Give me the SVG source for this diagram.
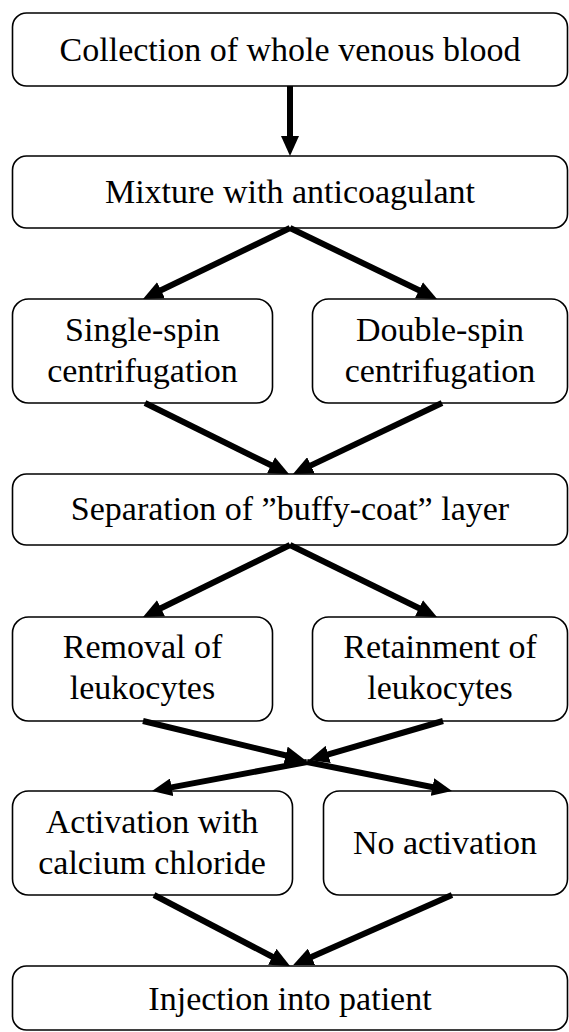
<svg xmlns="http://www.w3.org/2000/svg" width="569" height="1032" viewBox="0 0 569 1032">
<style>
.box{fill:#fff;stroke:#000;stroke-width:1.6}
.t{font-family:'Liberation Serif','DejaVu Serif',serif;font-size:34px;fill:#000;text-anchor:middle}
.a{stroke:#000;stroke-width:6;fill:none;marker-end:url(#ah)}
</style>
<defs>
<marker id="ah" markerUnits="userSpaceOnUse" markerWidth="20" markerHeight="18" refX="7" refY="9" orient="auto" viewBox="0 0 20 18">
<path d="M0,0 L20,9 L0,18 z" fill="#000"/>
</marker>
</defs>
<rect width="569" height="1032" fill="#fff"/>
<g id="n1"><rect class="box" x="12.5" y="13" width="555" height="73" rx="14"/><text class="t" font-family="Liberation Serif, serif" x="290" y="61">Collection of whole venous blood</text></g>
<g id="n2"><rect class="box" x="12.5" y="156" width="555" height="72" rx="14"/><text class="t" font-family="Liberation Serif, serif" x="290" y="203">Mixture with anticoagulant</text></g>
<g id="n3"><rect class="box" x="12.5" y="299" width="260" height="104" rx="16"/><text class="t" font-family="Liberation Serif, serif" x="142.5" y="341">Single-spin</text><text class="t" font-family="Liberation Serif, serif" x="142.5" y="382">centrifugation</text></g>
<g id="n4"><rect class="box" x="312.5" y="299" width="255" height="104" rx="16"/><text class="t" font-family="Liberation Serif, serif" x="440" y="341">Double-spin</text><text class="t" font-family="Liberation Serif, serif" x="440" y="382">centrifugation</text></g>
<g id="n5"><rect class="box" x="12.5" y="474" width="555" height="71" rx="14"/><text class="t" font-family="Liberation Serif, serif" x="290" y="520">Separation of ”buffy-coat” layer</text></g>
<g id="n6"><rect class="box" x="12.5" y="617" width="260" height="104" rx="16"/><text class="t" font-family="Liberation Serif, serif" x="142.5" y="658">Removal of</text><text class="t" font-family="Liberation Serif, serif" x="142.5" y="699">leukocytes</text></g>
<g id="n7"><rect class="box" x="312.5" y="617" width="255" height="104" rx="16"/><text class="t" font-family="Liberation Serif, serif" x="440" y="658">Retainment of</text><text class="t" font-family="Liberation Serif, serif" x="440" y="699">leukocytes</text></g>
<g id="n8"><rect class="box" x="12.5" y="791" width="280" height="104" rx="16"/><text class="t" font-family="Liberation Serif, serif" x="152" y="833">Activation with</text><text class="t" font-family="Liberation Serif, serif" x="152" y="874">calcium chloride</text></g>
<g id="n9"><rect class="box" x="323.5" y="791" width="244" height="104" rx="16"/><text class="t" font-family="Liberation Serif, serif" x="445" y="854">No activation</text></g>
<g id="n10"><rect class="box" x="12.5" y="966" width="555" height="64" rx="14"/><text class="t" font-family="Liberation Serif, serif" x="290" y="1010">Injection into patient</text></g>
<g id="connectors">
<line class="a" x1="290" y1="86" x2="290" y2="143"/>
<line class="a" x1="290" y1="228" x2="154.7" y2="293.3"/>
<line class="a" x1="290" y1="228" x2="425.3" y2="293.3"/>
<line class="a" x1="145" y1="403" x2="277.3" y2="468.3"/>
<line class="a" x1="442" y1="403" x2="304.7" y2="468.4"/>
<line class="a" x1="290" y1="545" x2="154.7" y2="611.3"/>
<line class="a" x1="290" y1="545" x2="425.3" y2="611.3"/>
<line class="a" x1="143" y1="721" x2="292.4" y2="757"/>
<line class="a" x1="443" y1="721" x2="321.5" y2="756.4"/>
<line class="a" x1="307" y1="762" x2="164.8" y2="788.6"/>
<line class="a" x1="307" y1="762" x2="439.3" y2="788.5"/>
<line class="a" x1="154" y1="895" x2="278.5" y2="960"/>
<line class="a" x1="452" y1="895" x2="305.1" y2="959.7"/>
</g>
</svg>
